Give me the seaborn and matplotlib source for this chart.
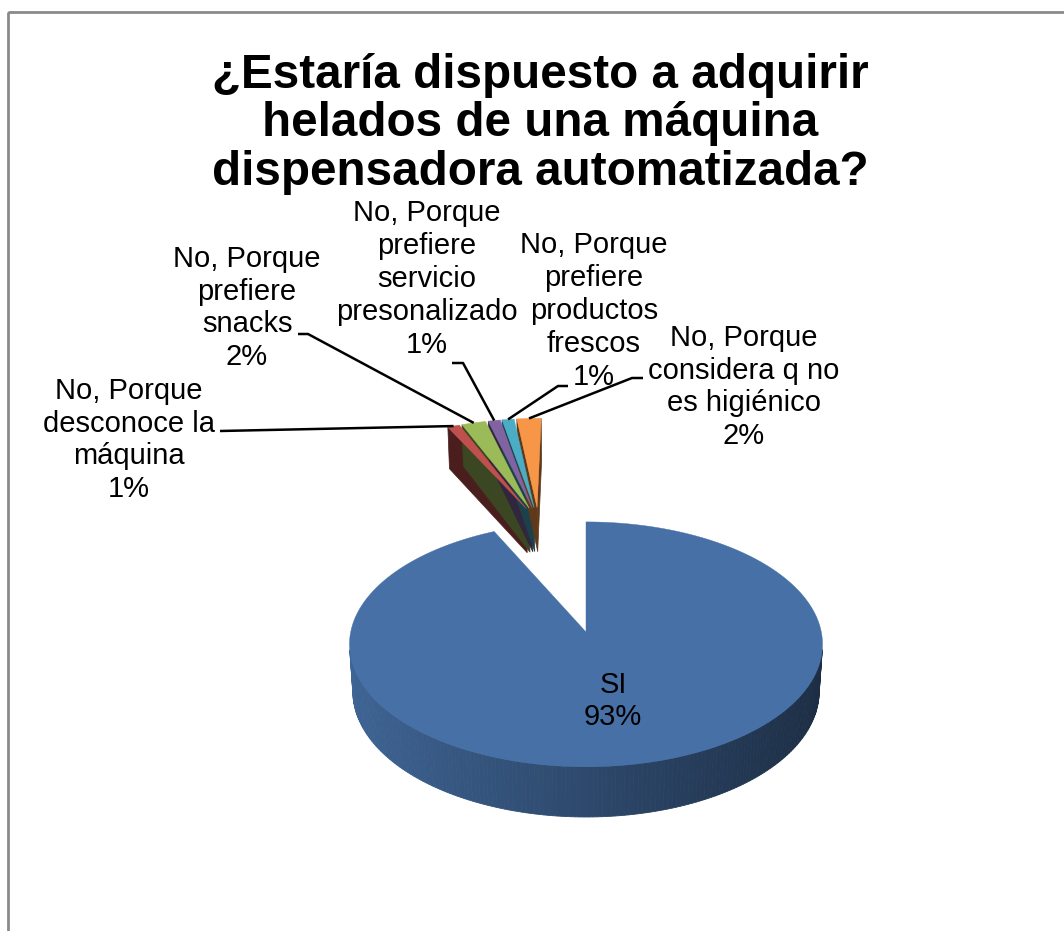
import numpy as np
import matplotlib
matplotlib.use("Agg")
import matplotlib.pyplot as plt
import seaborn as sns
from matplotlib.patches import Polygon, Rectangle
from matplotlib.colors import to_rgb

# ---- data -------------------------------------------------------------
categories = [
    "SI",
    "No, Porque\ndesconoce la\nmáquina",
    "No, Porque\nprefiere\nsnacks",
    "No, Porque\nprefiere\nservicio\npresonalizado",
    "No, Porque\nprefiere\nproductos\nfrescos",
    "No, Porque\nconsidera q no\nes higiénico",
]
percent = [93, 1, 2, 1, 1, 2]
title = "¿Estaría dispuesto a adquirir\nhelados de una máquina\ndispensadora automatizada?"
slice_colors = ["#4670a6", "#c0504d", "#9bbb59", "#8064a2", "#4bacc6", "#f79646"]

# ---- style ------------------------------------------------------------
sns.set_theme(style="white")
plt.rcParams["font.family"] = ["Liberation Sans", "DejaVu Sans"]
palette = sns.color_palette(slice_colors)

W, H = 1064, 931
fig = plt.figure(figsize=(W / 100, H / 100), dpi=100)
ax = fig.add_axes([0, 0, 1, 1])
ax.set_xlim(0, W)
ax.set_ylim(H, 0)
ax.axis("off")

# ---- 3-D projection of the pie disc -------------------------------------
PHI = np.radians(31.0)      # viewing elevation
DIST = 8.5                  # camera distance (disc radius = 1)
FOC = 2000.0
CX, CY = 586.0, 632.0       # screen position of the disc centre
THICK = 0.237               # disc thickness
SIN, COS = np.sin(PHI), np.cos(PHI)
CAM = np.array([0.0, DIST * SIN, DIST * COS])


def project(x, y, z):
    depth = DIST - y * SIN - z * COS
    return CX + FOC * x / depth, CY - FOC * (y * COS - z * SIN) / depth


def shade(color, factor):
    r, g, b = to_rgb(color)
    return (r * factor, g * factor, b * factor)


def wall_factor(nx):
    return 0.65 - 0.25 * nx


def facing(normal, point):
    return np.dot(normal, CAM - point) > 0


def draw_slice(a0, a1, ox, oz, color, z0):
    n = max(4, int(np.degrees(a1 - a0)))
    th = np.linspace(a0, a1, n + 1)
    ax_x = ox + np.sin(th)
    ax_z = oz - np.cos(th)
    # radial walls
    for ang, sign in ((a0, -1.0), (a1, 1.0)):
        normal = sign * np.array([np.cos(ang), 0.0, np.sin(ang)])
        mid = np.array([ox + 0.5 * np.sin(ang), -THICK / 2, oz - 0.5 * np.cos(ang)])
        if facing(normal, mid):
            ex, ez = ox + np.sin(ang), oz - np.cos(ang)
            pts = [project(ox, 0, oz), project(ex, 0, ez),
                   project(ex, -THICK, ez), project(ox, -THICK, oz)]
            c = shade(color, 0.38)
            ax.add_patch(Polygon(pts, closed=True, fc=c, ec=c, lw=0.5, zorder=z0))
    # curved outer wall, shaded by orientation
    for i in range(n):
        tm = 0.5 * (th[i] + th[i + 1])
        normal = np.array([np.sin(tm), 0.0, -np.cos(tm)])
        p = np.array([ox + np.sin(tm), -THICK / 2, oz - np.cos(tm)])
        if not facing(normal, p):
            continue
        pts = [project(ax_x[i], 0, ax_z[i]), project(ax_x[i + 1], 0, ax_z[i + 1]),
               project(ax_x[i + 1], -THICK, ax_z[i + 1]), project(ax_x[i], -THICK, ax_z[i])]
        c = shade(color, wall_factor(normal[0]))
        ax.add_patch(Polygon(pts, closed=True, fc=c, ec=c, lw=0.6, zorder=z0 + 0.1))
    # top face
    top = [project(ox, 0, oz)] + [project(x, 0, z) for x, z in zip(ax_x, ax_z)]
    ax.add_patch(Polygon(top, closed=True, fc=color, ec=color, lw=0.3, zorder=z0 + 0.2))


# angles: clockwise from 12 o'clock
fractions = np.array(percent, dtype=float) / np.sum(percent)
edges = np.concatenate([[0.0], np.cumsum(fractions)]) * 2 * np.pi

# the "No" slices are pulled out together along their common bisector,
# plus a slight individual separation
group_dir = 0.5 * (edges[1] + edges[-1])
group_pull = 1.02
own_pull = 0.15

label_pts = {}
for i in range(1, len(percent)):
    a0, a1 = edges[i], edges[i + 1]
    mid = 0.5 * (a0 + a1)
    ox = group_pull * np.sin(group_dir) + own_pull * np.sin(mid)
    oz = -group_pull * np.cos(group_dir) - own_pull * np.cos(mid)
    draw_slice(a0, a1, ox, oz, palette[i], z0=2 + 0.01 * i)
    label_pts[i] = project(ox + np.sin(mid), 0, oz - np.cos(mid))

draw_slice(edges[0], edges[1], 0.0, 0.0, palette[0], z0=5)

# ---- labels -----------------------------------------------------------
FS = 21
lab_kw = dict(fontsize=FS, ha="center", va="center", color="black",
              linespacing=1.22, zorder=10)

label_pos = {1: (129, 440), 2: (247, 308), 3: (427, 279), 4: (594, 311), 5: (744, 387)}
leader_start = {1: [(220, 431)],
                2: [(298, 334), (308, 334)],
                3: [(452, 363), (463, 363)],
                4: [(568, 386), (558, 386)],
                5: [(643, 378), (632, 378)]}

for i in range(1, len(percent)):
    txt = f"{categories[i]}\n{percent[i]}%"
    ax.text(*label_pos[i], txt, **lab_kw)
    path = leader_start[i] + [label_pts[i]]
    xs, ys = zip(*path)
    ax.plot(xs, ys, color="black", lw=1.8, zorder=9, solid_capstyle="butt")

ax.text(613, 701, f"{categories[0]}\n{percent[0]}%", **lab_kw)

# ---- title ------------------------------------------------------------
ax.text(540, 124, title, fontsize=34.3, fontweight="bold", ha="center", va="center",
        linespacing=1.11, color="black", zorder=10)

# ---- chart-area border -------------------------------------------------
ax.add_patch(Rectangle((8, 12), 1200, 1200, fill=False, ec="#8a8a8a", lw=2.0,
                       zorder=1, clip_on=False))

fig.savefig("out.png", dpi=100)
